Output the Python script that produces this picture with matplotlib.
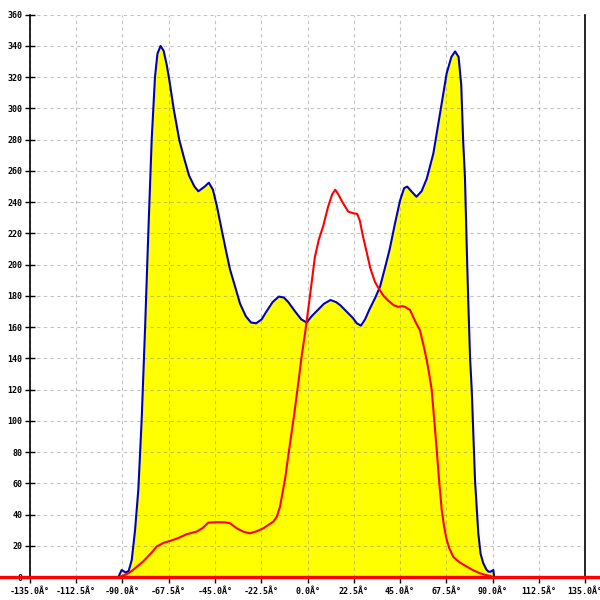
import matplotlib
matplotlib.use("Agg")
import matplotlib.pyplot as plt

# blue outline (yellow filled area)
blue_x = [-92, -91, -90.4, -88.5, -87, -85.5, -83.9, -82.3, -80.7, -79, -77.4, -75.8,
          -74.2, -73, -71.5, -70, -68.5, -67.2, -65, -62.4, -60, -57.6, -55, -53.1,
          -50, -48, -46, -44, -41.7, -39.5, -37.7, -35, -32.8, -30, -27.5, -25, -22.3,
          -20, -17, -14, -11.5, -9.3, -6, -3, -0.4, 2, 5, 8, 11.2, 14, 16, 19, 22, 24,
          26, 28, 30, 33, 35.3, 37.5, 40, 42.5, 45, 47, 48.5, 50.5, 53, 55.5, 58, 61.2,
          64.5, 67.7, 70, 71.8, 73.5, 74.8, 75.7, 76.6, 77.5, 78.2, 79.1, 79.9, 81.5,
          83.1, 84.2, 85.5, 87, 88, 89, 90.4, 90.8]
blue_y = [0, 3, 4.6, 3, 4, 11, 30, 56, 100, 160, 222, 280,
          320, 335, 340, 337, 328, 318, 299, 280, 268, 257, 250, 247,
          250, 252.5, 248, 237, 222, 208, 197, 185, 175, 167, 163, 162.5, 165,
          170, 176, 179.6, 179, 176, 170, 165, 163, 167, 171, 175, 177.4, 176, 174, 170, 166, 162.5,
          161, 165, 171, 179, 186, 197, 210, 226, 241, 249, 250, 247, 243.5, 247, 255, 271,
          297, 322.5, 333, 336.5, 333, 315, 280, 256, 210, 177, 140, 120, 62,
          28, 15, 9, 5, 3.6, 3.5, 4.6, 0]

# red series
red_x = [-91.2, -88, -85.5, -80, -76, -73.4, -70, -66.9, -63, -58.8, -53.9, -51, -48.3,
         -44, -40.1, -37.7, -34.4, -31, -28, -24.5, -21.5, -19, -16.6, -15, -13.4, -12,
         -10.9, -8.5, -6.5, -4.5, -2.8, -1.2, 1.2, 3.6, 5.5, 7.7, 10, 12, 13.5, 15, 17,
         19.8, 22, 24.2, 25.5, 27, 28.8, 30.5, 32.8, 35, 37, 39.3, 42, 44.2, 46, 47.4,
         49.9, 52.3, 54.7, 56.5, 58, 59.2, 60.4, 61.5, 62.9, 64, 65.3, 66.5, 67.7, 69,
         70.9, 74, 77.4, 80.5, 83.9, 86.5, 88.8, 90.5]
red_y = [0.3, 1.9, 4, 10, 15.5, 19.6, 22, 23.2, 25, 27.5, 29.2, 31.5, 34.9,
         35.2, 35.1, 34.5, 31.3, 29, 28.1, 29.5, 31.3, 33.5, 35.6, 38.5, 45, 55,
         63, 85.7, 104, 124, 142, 156, 180, 205, 216, 225, 237, 245, 248, 245, 240,
         234, 233, 232.5, 228, 218, 208, 198, 189, 184, 180, 177, 174, 173, 173.5, 173,
         171, 164, 158, 148, 139, 130, 120, 103, 81, 62, 43, 32, 24, 18.5,
         13, 9.5, 6.8, 4.5, 2.5, 1.5, 0.8, 0]

x_ticks = [-135, -112.5, -90, -67.5, -45, -22.5, 0, 22.5, 45, 67.5, 90, 112.5, 135]
x_labels = ["%.1f\u00c2\u00b0" % v for v in x_ticks]
y_ticks = list(range(0, 361, 20))

fig = plt.figure(figsize=(6, 6), dpi=100)
ax = fig.add_axes([0.05, 0.038, 0.925, 0.9375])

ax.fill_between(blue_x, blue_y, 0, color="#ffff00", lw=0, zorder=0.4)
ax.plot(blue_x, blue_y, color="#0000c0", lw=1.5, zorder=2)
ax.plot(red_x, red_y, color="#ff0000", lw=1.5, zorder=3)
ax.axhline(0, xmin=-0.06, xmax=1.05, color="#ff0000", lw=2.4, clip_on=False, zorder=4)

ax.set_xlim(-135, 135)
ax.set_ylim(0, 360)
ax.set_xticks(x_ticks)
ax.set_xticklabels(x_labels)
ax.set_yticks(y_ticks)

ax.set_axisbelow(True)
ax.grid(True, color="#888888", alpha=0.5, linestyle=(0, (3, 3)), lw=0.8)

ax.spines["top"].set_visible(False)
for s in ["left", "right", "bottom"]:
    ax.spines[s].set_linewidth(1.2)
    ax.spines[s].set_color("black")

ax.tick_params(axis="y", direction="inout", length=7, width=1, pad=2,
               labelsize=6, labelfontfamily="DejaVu Sans Mono")
ax.tick_params(axis="x", direction="out", length=4, width=1, pad=3,
               labelsize=6, labelfontfamily="DejaVu Sans Mono")
for lbl in ax.get_xticklabels() + ax.get_yticklabels():
    lbl.set_fontweight("bold")

fig.savefig("out.png", dpi=100)
